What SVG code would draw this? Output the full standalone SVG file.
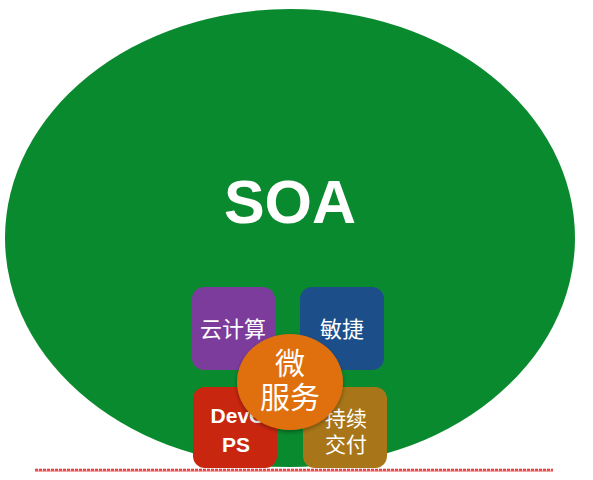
<svg xmlns="http://www.w3.org/2000/svg" width="593" height="480" viewBox="0 0 593 480">
<defs>
<style>
.cn{font-family:"Noto Sans CJK SC","Noto Sans",sans-serif;fill:#ffffff;text-anchor:middle}
.lat{font-family:"Liberation Sans",Arial,sans-serif;font-weight:bold;fill:#ffffff;text-anchor:middle}
</style>
<filter id="sh" x="-20%" y="-20%" width="140%" height="140%">
<feDropShadow dx="0" dy="2" stdDeviation="2" flood-color="#000" flood-opacity="0.35"/>
</filter>
</defs>
<rect width="593" height="480" fill="#ffffff"/>
<g id="soa">
<ellipse cx="290" cy="238" rx="285" ry="229" fill="#0a8a2e"/>
<text class="lat" x="290" y="223" font-size="61">SOA</text>
</g>
<g id="cloud">
<rect x="192" y="287" width="83" height="83" rx="12" fill="#7c3c9c"/>
<text class="cn" x="233" y="337" font-size="22">云计算</text>
</g>
<g id="agile">
<rect x="300" y="287" width="84" height="83" rx="12" fill="#1c4f8a"/>
<text class="cn" x="342" y="337" font-size="22">敏捷</text>
</g>
<g id="devops">
<rect x="193" y="387" width="84" height="81" rx="12" fill="#c9260f"/>
<text class="lat" x="238" y="423" font-size="21">DevO</text>
<text class="lat" x="236" y="452" font-size="21">PS</text>
</g>
<g id="cd">
<rect x="303" y="387" width="84" height="81" rx="12" fill="#a87618"/>
<text class="cn" x="346" y="426" font-size="21">持续</text>
<text class="cn" x="346" y="452" font-size="21">交付</text>
</g>
<g id="micro">
<ellipse cx="290" cy="382" rx="53" ry="48" fill="#e0700f" filter="url(#sh)"/>
<text class="cn" x="290" y="374" font-size="30">微</text>
<text class="cn" x="290" y="408" font-size="30">服务</text>
</g>
<g id="connectors">
<path d="M35 470 L553 470" stroke="#e23a3a" stroke-width="2.5" fill="none" stroke-dasharray="3 1"/>
<path d="M35 471 L553 471" stroke="#f07070" stroke-width="1" fill="none"/>
</g>
</svg>
